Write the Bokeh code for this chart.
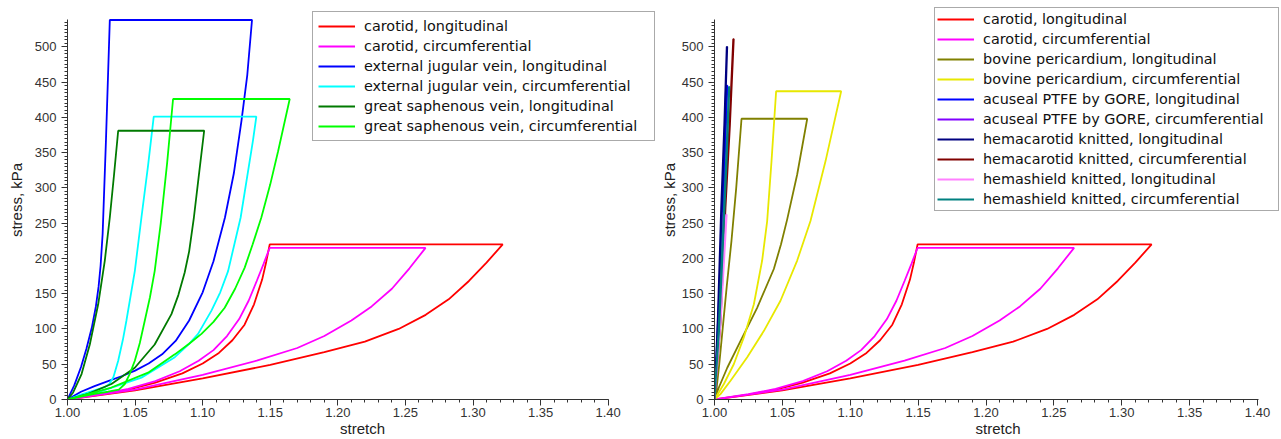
from bokeh.plotting import figure
from bokeh.layouts import row
from bokeh.models import Range1d, Legend, LegendItem, SingleIntervalTicker, PrintfTickFormatter
from bokeh.embed import file_html
from bokeh.resources import INLINE

# ---------------- data (stretch, stress kPa) ----------------
# each material: steep branch (a) and gradual branch (b), joined at max stress
# carotid, longitudinal
car_L_a_x = [1.000, 1.025, 1.045, 1.065, 1.085, 1.100, 1.112, 1.122, 1.131, 1.138, 1.144, 1.147, 1.1496]
car_L_a_y = [0, 7, 14, 24, 37, 51, 66, 84, 106, 135, 170, 195, 220]
car_L_b_x = [1.000, 1.050, 1.100, 1.150, 1.190, 1.220, 1.245, 1.265, 1.282, 1.297, 1.310, 1.322]
car_L_b_y = [0, 13, 30, 49, 67, 82, 100, 120, 142, 168, 194, 220]
# carotid, circumferential
car_C_a_x = [1.000, 1.025, 1.045, 1.065, 1.083, 1.097, 1.108, 1.118, 1.127, 1.134, 1.140, 1.145, 1.1496]
car_C_a_y = [0, 7.5, 15, 26, 40, 55, 70, 90, 114, 140, 168, 192, 215]
car_C_b_x = [1.000, 1.050, 1.100, 1.140, 1.170, 1.190, 1.210, 1.225, 1.240, 1.253, 1.2649]
car_C_b_y = [0, 14, 35, 55, 73, 90, 112, 132, 157, 186, 215]
# external jugular vein, longitudinal
ejv_L_a_x = [1.000, 1.005, 1.010, 1.014, 1.018, 1.021, 1.023, 1.0245, 1.026, 1.0285, 1.0313]
ejv_L_a_y = [0, 20, 46, 72, 102, 132, 160, 190, 235, 370, 538]
ejv_L_b_x = [1.000, 1.010, 1.020, 1.030, 1.040, 1.050, 1.060, 1.070, 1.080, 1.090, 1.100, 1.108, 1.1165, 1.123, 1.1287, 1.133, 1.1365]
ejv_L_b_y = [0, 11, 19, 26, 33, 41, 51, 64, 83, 112, 152, 196, 258, 320, 395, 460, 538]
# external jugular vein, circumferential
ejv_C_a_x = [1.000, 1.010, 1.020, 1.028, 1.031, 1.034, 1.0375, 1.041, 1.0436, 1.0498, 1.0547, 1.0595, 1.0638]
ejv_C_a_y = [0, 7, 13, 18, 22, 32, 55, 85, 112, 182, 258, 330, 401]
ejv_C_b_x = [1.000, 1.0251, 1.0547, 1.0794, 1.090, 1.0966, 1.1065, 1.113, 1.1188, 1.1281, 1.1372, 1.1397]
ejv_C_b_y = [0, 12, 31, 60, 79, 93, 126, 152, 182, 258, 367, 401]
# great saphenous vein, longitudinal
gsv_L_a_x = [1.000, 1.0042, 1.0104, 1.0165, 1.0227, 1.0276, 1.0313, 1.0345, 1.0375]
gsv_L_a_y = [0, 10, 36, 78, 135, 197, 258, 320, 381]
gsv_L_b_x = [1.000, 1.0153, 1.0325, 1.0498, 1.0645, 1.0769, 1.082, 1.0867, 1.090, 1.0935, 1.097, 1.1011]
gsv_L_b_y = [0, 8, 22, 45, 78, 121, 148, 180, 210, 258, 315, 381]
# great saphenous vein, circumferential
gsv_C_a_x = [1.000, 1.010, 1.020, 1.030, 1.038, 1.0424, 1.046, 1.0498, 1.0535, 1.0572, 1.061, 1.0645, 1.069, 1.0737, 1.0781]
gsv_C_a_y = [0, 4, 8, 11, 14, 22, 36, 55, 80, 112, 145, 182, 250, 335, 426]
gsv_C_b_x = [1.000, 1.0325, 1.0596, 1.0794, 1.090, 1.0991, 1.108, 1.1163, 1.124, 1.1311, 1.137, 1.1434, 1.150, 1.1558, 1.1644]
gsv_C_b_y = [0, 17, 38, 64, 79, 93, 110, 130, 157, 187, 220, 258, 305, 352, 426]
# bovine pericardium, longitudinal
bov_L_a_x = [1.000, 1.0015, 1.0035, 1.006, 1.009, 1.0125, 1.0160, 1.0199]
bov_L_a_y = [0, 15, 50, 100, 160, 225, 300, 398]
bov_L_b_x = [1.000, 1.0032, 1.0094, 1.0192, 1.0314, 1.0437, 1.049, 1.0535, 1.0609, 1.0683]
bov_L_b_y = [0, 17, 45, 83, 130, 185, 220, 255, 319, 398]
# bovine pericardium, circumferential
bov_C_a_x = [1.000, 1.0069, 1.0142, 1.0216, 1.029, 1.0351, 1.0388, 1.042, 1.0454]
bov_C_a_y = [0, 22, 50, 88, 135, 197, 253, 338, 437]
bov_C_b_x = [1.000, 1.0044, 1.0118, 1.0241, 1.0363, 1.0486, 1.0609, 1.0707, 1.0818, 1.0933]
bov_C_b_y = [0, 7.6, 26.5, 60, 97, 140, 197, 253, 338, 437]
# acuseal PTFE by GORE, longitudinal
pt_L_a_x = [1.000, 1.003, 1.006, 1.0085]
pt_L_a_y = [0, 130, 280, 445]
pt_L_b_x = [1.000, 1.0035, 1.0065, 1.0095]
pt_L_b_y = [0, 130, 280, 445]
# acuseal PTFE by GORE, circumferential
pt_C_a_x = [1.000, 1.0035, 1.0065]
pt_C_a_y = [0, 120, 265]
pt_C_b_x = [1.000, 1.004, 1.0075]
pt_C_b_y = [0, 120, 265]
# hemacarotid knitted, longitudinal
hc_L_a_x = [1.000, 1.0025, 1.0049, 1.0072, 1.0090]
hc_L_a_y = [0, 120, 272, 390, 500]
hc_L_b_x = [1.000, 1.0030, 1.0053, 1.0075, 1.0094]
hc_L_b_y = [0, 120, 272, 390, 500]
# hemacarotid knitted, circumferential
hc_C_a_x = [1.000, 1.0040, 1.0078, 1.0110, 1.0138]
hc_C_a_y = [0, 110, 272, 390, 511]
hc_C_b_x = [1.000, 1.0045, 1.0081, 1.0114, 1.0142]
hc_C_b_y = [0, 110, 272, 390, 511]
# hemashield knitted, longitudinal
hs_L_a_x = [1.000, 1.0040, 1.0085]
hs_L_a_y = [0, 110, 262]
hs_L_b_x = [1.000, 1.0045, 1.0090]
hs_L_b_y = [0, 110, 262]
# hemashield knitted, circumferential
hs_C_a_x = [1.000, 1.0030, 1.0060, 1.0085, 1.0106]
hs_C_a_y = [0, 100, 230, 340, 443]
hs_C_b_x = [1.000, 1.0035, 1.0065, 1.0090, 1.0110]
hs_C_b_y = [0, 100, 230, 340, 443]

left_series = [
    ("carotid, longitudinal", "#ff0000", car_L_a_x, car_L_a_y, car_L_b_x, car_L_b_y),
    ("carotid, circumferential", "#ff00ff", car_C_a_x, car_C_a_y, car_C_b_x, car_C_b_y),
    ("external jugular vein, longitudinal", "#0000ff", ejv_L_a_x, ejv_L_a_y, ejv_L_b_x, ejv_L_b_y),
    ("external jugular vein, circumferential", "#00ffff", ejv_C_a_x, ejv_C_a_y, ejv_C_b_x, ejv_C_b_y),
    ("great saphenous vein, longitudinal", "#007a00", gsv_L_a_x, gsv_L_a_y, gsv_L_b_x, gsv_L_b_y),
    ("great saphenous vein, circumferential", "#00ff00", gsv_C_a_x, gsv_C_a_y, gsv_C_b_x, gsv_C_b_y),
]
right_series = [
    ("carotid, longitudinal", "#ff0000", car_L_a_x, car_L_a_y, car_L_b_x, car_L_b_y),
    ("carotid, circumferential", "#ff00ff", car_C_a_x, car_C_a_y, car_C_b_x, car_C_b_y),
    ("bovine pericardium, longitudinal", "#808000", bov_L_a_x, bov_L_a_y, bov_L_b_x, bov_L_b_y),
    ("bovine pericardium, circumferential", "#e8e800", bov_C_a_x, bov_C_a_y, bov_C_b_x, bov_C_b_y),
    ("acuseal PTFE by GORE, longitudinal", "#0000ff", pt_L_a_x, pt_L_a_y, pt_L_b_x, pt_L_b_y),
    ("acuseal PTFE by GORE, circumferential", "#8000ff", pt_C_a_x, pt_C_a_y, pt_C_b_x, pt_C_b_y),
    ("hemacarotid knitted, longitudinal", "#000080", hc_L_a_x, hc_L_a_y, hc_L_b_x, hc_L_b_y),
    ("hemacarotid knitted, circumferential", "#800000", hc_C_a_x, hc_C_a_y, hc_C_b_x, hc_C_b_y),
    ("hemashield knitted, longitudinal", "#ff80ff", hs_L_a_x, hs_L_a_y, hs_L_b_x, hs_L_b_y),
    ("hemashield knitted, circumferential", "#008080", hs_C_a_x, hs_C_a_y, hs_C_b_x, hs_C_b_y),
]

X_AXIS_END = 1.4005
Y_AXIS_TOP = 538
PX_PER_KPA = 0.7054
H = 439
BOTTOM = 40
Y_END = (H - BOTTOM) / PX_PER_KPA


def make_panel(width, border_left, px_per_unit, ylabel_standoff):
    frame_w = width - border_left
    x_end = 1.0 + frame_w / px_per_unit
    p = figure(width=width, height=H, x_range=Range1d(1.0, x_end), y_range=Range1d(0, Y_END),
               output_backend="svg", toolbar_location=None,
               min_border_left=border_left, min_border_right=0, min_border_top=0,
               min_border_bottom=BOTTOM, background_fill_color="white", border_fill_color="white")
    p.outline_line_color = None
    p.grid.visible = False
    p.xaxis.ticker = SingleIntervalTicker(interval=0.05, num_minor_ticks=5)
    p.yaxis.ticker = SingleIntervalTicker(interval=50, num_minor_ticks=10)
    p.xaxis.formatter = PrintfTickFormatter(format="%.2f")
    p.yaxis.formatter = PrintfTickFormatter(format="%d")
    p.xaxis.bounds = (1.0, X_AXIS_END)
    p.yaxis.bounds = (0, Y_AXIS_TOP)
    p.xaxis.axis_label = "stretch"
    p.yaxis.axis_label = "stress, kPa"
    for ax in (p.xaxis[0], p.yaxis[0]):
        ax.axis_line_color = "#333333"
        ax.major_tick_line_color = "#333333"
        ax.minor_tick_line_color = "#333333"
        ax.major_tick_out = 6
        ax.major_tick_in = 0
        ax.minor_tick_out = 3
        ax.minor_tick_in = 0
        ax.major_label_text_font = "Liberation Sans"
        ax.major_label_text_font_size = "13px"
        ax.major_label_text_color = "#333333"
        ax.axis_label_text_font = "Liberation Sans"
        ax.axis_label_text_font_size = "15px"
        ax.axis_label_text_font_style = "normal"
        ax.axis_label_text_color = "#222222"
    p.xaxis.major_label_standoff = 2
    p.xaxis.axis_label_standoff = 0
    p.yaxis.major_label_standoff = 5
    p.yaxis.axis_label_standoff = ylabel_standoff
    return p


def draw(p, series, loc, padding, label_width):
    items = []
    for label, color, ax_, ay_, bx_, by_ in series:
        xs = list(ax_) + list(bx_)[::-1]
        ys = list(ay_) + list(by_)[::-1]
        r = p.line(xs, ys, line_color=color, line_width=1.8)
        items.append(LegendItem(label=label, renderers=[r]))
    leg = Legend(items=items, location=loc, margin=0, padding=padding, spacing=2,
                 glyph_width=37, glyph_height=18, label_height=18, label_standoff=9,
                 label_width=label_width,
                 label_text_font="DejaVu Sans", label_text_font_size="14.4px",
                 label_text_color="#111111",
                 border_line_color="#555555", border_line_width=1,
                 background_fill_color="white", background_fill_alpha=1.0)
    p.add_layout(leg)


left = make_panel(657, 67, 1351.7, 7)
draw(left, left_series, (245, 258), 5, 285)
right = make_panel(1281 - 657, 57, 1357.5, 1)
draw(right, right_series, (220, 188), 2, 293)

layout = row(left, right)
open("out.html", "w").write(file_html(layout, INLINE))
